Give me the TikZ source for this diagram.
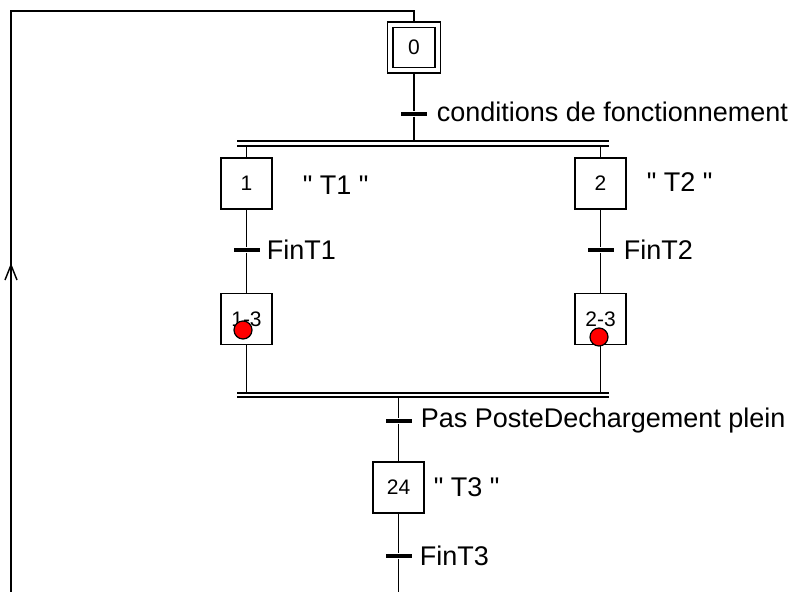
\documentclass[tikz,border=0pt]{standalone}
\usepackage{fontspec}
\setmainfont{Liberation Sans}[Ligatures=TeXOff]
\usetikzlibrary{calc}
\begin{document}
\begin{tikzpicture}[x=1pt,y=-1pt,line width=1.6pt,
  stepbox/.style={draw,minimum width=51pt,minimum height=51pt,inner sep=0pt,font=\fontsize{21}{21}\selectfont},
  innerbox/.style={draw,minimum width=42pt,minimum height=40pt,inner sep=0pt,font=\fontsize{21}{21}\selectfont},
  trans/.style={fill=black,minimum width=26pt,minimum height=3.6pt,inner sep=0pt},
  lab/.style={anchor=west,inner sep=0pt,font=\fontsize{27}{28}\selectfont},
  reddot/.style={circle,draw,fill=red,minimum size=18pt,inner sep=0pt,line width=1.2pt}]
\useasboundingbox (0,0) rectangle (802,592);

% step 0
\node[stepbox,minimum width=53pt] (s0) at (414,47.5) {};
\node[innerbox] (s0i) at (414,47.5) {0};

% return loop
\coordinate (rt) at (414,11);
\coordinate (lt) at (11,11);
\coordinate (lb) at (11,592);
\coordinate (arr) at (11,265);
\draw (s0.north) -- (rt) -- (lt) -- (lb);
\draw[line width=1.4pt] ($(arr)+(-6,15)$) -- (arr) -- ($(arr)+(6,15)$);

% transition 0
\node[trans] (t0) at (414,114) {};
\node[lab] (l0) at (436,112) {conditions de fonctionnement};

% upper double bar
\coordinate (d1a) at (237,141);
\coordinate (d1b) at (609,141);
\coordinate (d1c) at (237,146);
\coordinate (d1d) at (609,146);
\draw (d1a) -- (d1b);
\draw (d1c) -- (d1d);
\draw (s0.south) -- (t0) -- (s0.south |- d1a);

% branch 1
\node[stepbox] (s1) at (246.5,183.5) {1};
\node[lab] (l1) at (302,185) {" T1 "};
\node[trans] (t1) at (246.5,250) {};
\node[lab] (lt1) at (266,250) {FinT1};
\node[stepbox] (s13) at (246.5,319) {1-3};
\node[reddot] (r13) at (243,330) {};
\draw (s1.north |- d1c) -- (s1.north);
\draw (s1.south) -- (t1) -- (s13.north);

% branch 2
\node[stepbox] (s2) at (600.5,183.5) {2};
\node[lab] (l2) at (646,182) {" T2 "};
\node[trans] (t2) at (600.5,250) {};
\node[lab] (lt2) at (623,250) {FinT2};
\node[stepbox] (s23) at (600.5,319) {2-3};
\node[reddot] (r23) at (599,337) {};
\draw (s2.north |- d1c) -- (s2.north);
\draw (s2.south) -- (t2) -- (s23.north);

% lower double bar
\coordinate (d2a) at (237,393);
\coordinate (d2b) at (609,393);
\coordinate (d2c) at (237,397);
\coordinate (d2d) at (609,397);
\draw (d2a) -- (d2b);
\draw (d2c) -- (d2d);
\draw (s13.south) -- (s13.south |- d2a);
\draw (s23.south) -- (s23.south |- d2a);

% step 24
\node[trans] (t3) at (398.5,421) {};
\node[lab] (lt3) at (420,421) {Pas PosteDechargement plein};
\node[stepbox] (s24) at (398.5,487.5) {24};
\node[lab] (l24) at (433,487) {" T3 "};
\node[trans] (t4) at (398.5,556) {};
\node[lab] (lt4) at (419,556) {FinT3};
\coordinate (bt) at (398.5,592);
\draw (s24.north |- d2c) -- (t3) -- (s24.north);
\draw (s24.south) -- (t4) -- (bt);
\end{tikzpicture}
\end{document}
